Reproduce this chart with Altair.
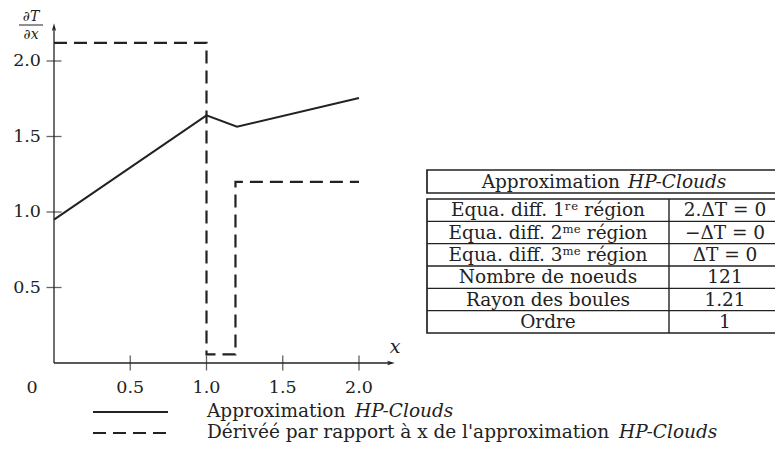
import altair as alt
import pandas as pd

# ---- data ----
x_solid = [0.0, 1.0, 1.2, 2.0]
y_solid = [0.95, 1.64, 1.565, 1.755]

x_dash = [0.0, 1.0, 1.0, 1.19, 1.19, 2.0]
y_dash = [2.12, 2.12, 0.057, 0.057, 1.20, 1.20]

x_ticks = [0.5, 1.0, 1.5, 2.0]
x_tick_labels = ["0.5", "1.0", "1.5", "2.0"]
y_ticks = [0.5, 1.0, 1.5, 2.0]
y_tick_labels = ["0.5", "1.0", "1.5", "2.0"]

table_title = ["Approximation", "HP-Clouds"]
table_left = ["Equa. diff. 1ʳᵉ région", "Equa. diff. 2ᵐᵉ région", "Equa. diff. 3ᵐᵉ région",
              "Nombre de noeuds", "Rayon des boules", "Ordre"]
table_right = ["2.ΔT = 0", "−ΔT = 0", "ΔT = 0", "121", "1.21", "1"]

legend_roman = ["Approximation", "Dérivéé par rapport à x de l'approximation"]
legend_italic = ["HP-Clouds", "HP-Clouds"]

FONT = "DejaVu Serif"
FS = 18.5
TFS = 17.5
INK = "#222222"

XS = alt.Scale(domain=[0, 2], range=[46, 351])
YS = alt.Scale(domain=[0, 2], range=[355, 53])
X_END = 2.21
Y_END = 2.225

solid_df = pd.DataFrame({"x": x_solid, "y": y_solid, "i": range(len(x_solid))})
dash_df = pd.DataFrame({"x": x_dash, "y": y_dash, "i": range(len(x_dash))})

solid = alt.Chart(solid_df).mark_line(color=INK, strokeWidth=2).encode(
    x=alt.X("x:Q", scale=XS, axis=None),
    y=alt.Y("y:Q", scale=YS, axis=None),
    order="i:Q",
)
dashed = alt.Chart(dash_df).mark_line(color=INK, strokeWidth=2.2, strokeDash=[13, 7]).encode(
    x=alt.X("x:Q", scale=XS, axis=None),
    y=alt.Y("y:Q", scale=YS, axis=None),
    order="i:Q",
)

axes_df = pd.DataFrame({"x": [0, 0], "y": [0, 0], "x2": [0, X_END], "y2": [Y_END, 0]})
axes = alt.Chart(axes_df).mark_rule(color=INK, strokeWidth=1.3).encode(
    x=alt.X("x:Q", scale=XS, axis=None), y=alt.Y("y:Q", scale=YS, axis=None),
    x2="x2:Q", y2="y2:Q",
)
arrow_up = alt.Chart(pd.DataFrame({"x": [0], "y": [Y_END]})).mark_point(
    shape="M0,-1L0.55,1L0,0.6L-0.55,1Z", filled=True, color=INK, size=60, opacity=1
).encode(x=alt.X("x:Q", scale=XS, axis=None), y=alt.Y("y:Q", scale=YS, axis=None))
arrow_right = alt.Chart(pd.DataFrame({"x": [X_END], "y": [0]})).mark_point(
    shape="M1,0L-1,0.55L-0.6,0L-1,-0.55Z", filled=True, color=INK, size=60, opacity=1
).encode(x=alt.X("x:Q", scale=XS, axis=None), y=alt.Y("y:Q", scale=YS, axis=None))

xt_df = pd.DataFrame({"v": x_ticks, "lab": x_tick_labels, "z": [0] * len(x_ticks)})
yt_df = pd.DataFrame({"v": y_ticks, "lab": y_tick_labels, "z": [0] * len(y_ticks)})

xticks = alt.Chart(xt_df).mark_tick(orient="vertical", color=INK, thickness=1.3, size=15).encode(
    x=alt.X("v:Q", scale=XS, axis=None), y=alt.Y("z:Q", scale=YS, axis=None))
yticks = alt.Chart(yt_df).mark_tick(orient="horizontal", color=INK, thickness=1.3, size=15).encode(
    x=alt.X("z:Q", scale=XS, axis=None), y=alt.Y("v:Q", scale=YS, axis=None))

xlabels = alt.Chart(xt_df).mark_text(font=FONT, fontSize=TFS, color=INK, baseline="middle").encode(
    x=alt.X("v:Q", scale=XS, axis=None), y=alt.value(380), text="lab:N")
ylabels = alt.Chart(yt_df).mark_text(font=FONT, fontSize=TFS, color=INK, align="right", baseline="middle").encode(
    x=alt.value(33), y=alt.Y("v:Q", scale=YS, axis=None), text="lab:N")
zero_label = alt.Chart(pd.DataFrame({"v": [0], "lab": ["0"]})).mark_text(
    font=FONT, fontSize=TFS, color=INK, baseline="middle", dx=-22).encode(
    x=alt.X("v:Q", scale=XS, axis=None), y=alt.value(380), text="lab:N")

x_title = alt.Chart(pd.DataFrame({"t": ["x"]})).mark_text(
    font=FONT, fontSize=19, fontStyle="italic", color=INK).encode(
    x=alt.value(387), y=alt.value(339), text="t:N")
y_num = alt.Chart(pd.DataFrame({"t": ["∂T"]})).mark_text(
    font=FONT, fontSize=14, fontStyle="italic", color=INK, baseline="alphabetic").encode(
    x=alt.value(23), y=alt.value(13), text="t:N")
y_den = alt.Chart(pd.DataFrame({"t": ["∂x"]})).mark_text(
    font=FONT, fontSize=14, fontStyle="italic", color=INK, baseline="alphabetic").encode(
    x=alt.value(23), y=alt.value(31), text="t:N")
y_bar = alt.Chart(pd.DataFrame({"t": [0]})).mark_rule(color=INK, strokeWidth=1).encode(
    x=alt.value(11), x2=alt.value(35), y=alt.value(17))

# ---- table ----
TY = alt.Scale(domain=[0, 6], range=[191, 325])
tab_df = pd.DataFrame({"r": [i + 0.5 for i in range(6)], "left": table_left, "right": table_right})
tleft = alt.Chart(tab_df).mark_text(font=FONT, fontSize=FS, color=INK).encode(
    x=alt.value(540), y=alt.Y("r:Q", scale=TY, axis=None), text="left:N")
tright = alt.Chart(tab_df).mark_text(font=FONT, fontSize=FS, color=INK).encode(
    x=alt.value(717), y=alt.Y("r:Q", scale=TY, axis=None), text="right:N")
sep_df = pd.DataFrame({"r": [1, 2, 3, 4, 5]})
tseps = alt.Chart(sep_df).mark_rule(color=INK, strokeWidth=1.4).encode(
    x=alt.value(419), x2=alt.value(773), y=alt.Y("r:Q", scale=TY, axis=None))
body_box = alt.Chart(pd.DataFrame({"a": [0], "b": [6]})).mark_rect(
    fill=None, stroke=INK, strokeWidth=1.7).encode(
    x=alt.value(419), x2=alt.value(773), y=alt.Y("a:Q", scale=TY, axis=None), y2="b:Q")
divider = alt.Chart(pd.DataFrame({"a": [0], "b": [6]})).mark_rule(color=INK, strokeWidth=1.4).encode(
    x=alt.value(661), y=alt.Y("a:Q", scale=TY, axis=None), y2="b:Q")
title_box = alt.Chart(pd.DataFrame({"a": [0]})).mark_rect(
    fill=None, stroke=INK, strokeWidth=1.7).encode(
    x=alt.value(419), x2=alt.value(773), y=alt.value(162), y2=alt.value(185))
ttl1 = alt.Chart(pd.DataFrame({"t": [table_title[0]]})).mark_text(
    font=FONT, fontSize=FS, color=INK, align="right").encode(
    x=alt.value(612), y=alt.value(174), text="t:N")
ttl2 = alt.Chart(pd.DataFrame({"t": [table_title[1]]})).mark_text(
    font=FONT, fontSize=FS, fontStyle="italic", color=INK, align="left").encode(
    x=alt.value(620), y=alt.value(174), text="t:N")

# ---- legend ----
leg_solid = alt.Chart(pd.DataFrame({"a": [0]})).mark_rule(color=INK, strokeWidth=2).encode(
    x=alt.value(85), x2=alt.value(160), y=alt.value(404))
leg_dash = alt.Chart(pd.DataFrame({"a": [0]})).mark_rule(color=INK, strokeWidth=2.2, strokeDash=[13, 7]).encode(
    x=alt.value(85), x2=alt.value(160), y=alt.value(425))
leg_r = pd.DataFrame({"t": legend_roman, "xx": [199, 199], "yy": [409, 430]})
leg_i = pd.DataFrame({"t": legend_italic, "xx": [347, 611], "yy": [409, 430]})
leg_txt_r = alt.Chart(leg_r).mark_text(font=FONT, fontSize=FS, color=INK, align="left",
                                       baseline="alphabetic").encode(
    x=alt.X("xx:Q", scale=None), y=alt.Y("yy:Q", scale=None), text="t:N")
leg_txt_i = alt.Chart(leg_i).mark_text(font=FONT, fontSize=FS, fontStyle="italic", color=INK,
                                       align="left", baseline="alphabetic").encode(
    x=alt.X("xx:Q", scale=None), y=alt.Y("yy:Q", scale=None), text="t:N")

chart = alt.layer(
    dashed, solid, axes, arrow_up, arrow_right, xticks, yticks, xlabels, ylabels, zero_label,
    x_title, y_num, y_den, y_bar,
    body_box, title_box, tseps, divider, tleft, tright, ttl1, ttl2,
    leg_solid, leg_dash, leg_txt_r, leg_txt_i,
).resolve_scale(x="independent", y="independent").properties(
    width=767, height=436, padding=0, autosize="none"
).configure_view(stroke=None)

chart.save("out.html", embed_options={"renderer": "svg", "actions": False})
